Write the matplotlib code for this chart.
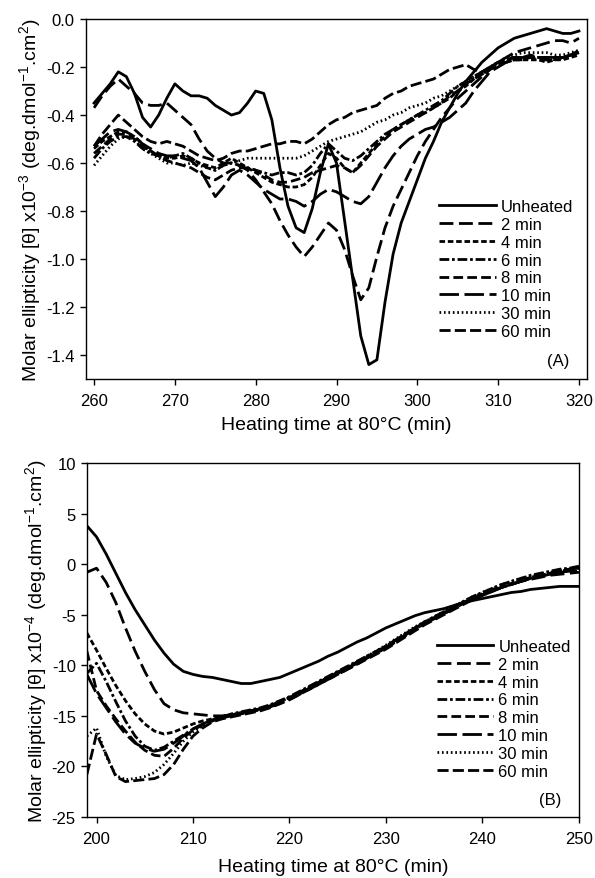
import matplotlib
matplotlib.use('Agg')
import matplotlib.pyplot as plt

plt.rcParams['font.family'] = ['Liberation Sans', 'DejaVu Sans']
plt.rcParams['mathtext.default'] = 'regular'
plt.rcParams['lines.scale_dashes'] = False

# (A) 260-320
x_a = list(range(260, 321))
unheated_a = [-0.35, -0.31, -0.27, -0.22, -0.24, -0.31, -0.41, -0.45, -0.40, -0.33,
              -0.27, -0.30, -0.32, -0.32, -0.33, -0.36, -0.38, -0.40, -0.39, -0.35,
              -0.30, -0.31, -0.42, -0.62, -0.78, -0.87, -0.89, -0.79, -0.64, -0.52,
              -0.60, -0.84, -1.08, -1.32, -1.44, -1.42, -1.18, -0.98, -0.85, -0.76,
              -0.67, -0.58, -0.51, -0.43, -0.37, -0.31, -0.26, -0.22, -0.18, -0.15,
              -0.12, -0.10, -0.08, -0.07, -0.06, -0.05, -0.04, -0.05, -0.06, -0.06,
              -0.05]
min2_a = [-0.37, -0.32, -0.28, -0.25, -0.28, -0.31, -0.35, -0.36, -0.36, -0.35,
          -0.38, -0.41, -0.44, -0.50, -0.55, -0.58, -0.60, -0.60, -0.61, -0.63,
          -0.67, -0.72, -0.77, -0.84, -0.90, -0.95, -0.99, -0.95, -0.90, -0.85,
          -0.88, -0.96, -1.07, -1.17, -1.12, -0.99, -0.87, -0.78, -0.71, -0.64,
          -0.57, -0.51, -0.46, -0.41, -0.37, -0.33, -0.30, -0.27, -0.24, -0.21,
          -0.18, -0.16, -0.14, -0.13, -0.12, -0.11, -0.10, -0.09, -0.09, -0.10,
          -0.08]
min4_a = [-0.54, -0.51, -0.49, -0.47, -0.47, -0.49, -0.52, -0.55, -0.57, -0.58,
          -0.58, -0.57, -0.58, -0.60, -0.61, -0.62, -0.60, -0.58, -0.60, -0.62,
          -0.64, -0.66, -0.68, -0.69, -0.70, -0.70, -0.69, -0.66, -0.61, -0.56,
          -0.58, -0.62, -0.64, -0.60, -0.56, -0.52, -0.49, -0.46, -0.44, -0.42,
          -0.40, -0.39, -0.37, -0.35, -0.33, -0.30, -0.28, -0.25, -0.23, -0.21,
          -0.19, -0.18, -0.17, -0.17, -0.17, -0.17, -0.18, -0.17, -0.17, -0.16,
          -0.15]
min6_a = [-0.58, -0.54, -0.51, -0.49, -0.49, -0.51, -0.54, -0.56, -0.57, -0.58,
          -0.57, -0.56, -0.58, -0.60, -0.62, -0.63, -0.61, -0.60, -0.61, -0.62,
          -0.63, -0.64, -0.65, -0.64, -0.64, -0.65, -0.64, -0.61, -0.56, -0.52,
          -0.55, -0.58, -0.59, -0.57, -0.54, -0.51, -0.48, -0.46, -0.44, -0.42,
          -0.40, -0.38, -0.36, -0.34, -0.31, -0.28, -0.26, -0.24, -0.22, -0.20,
          -0.18, -0.17, -0.16, -0.16, -0.16, -0.16, -0.17, -0.17, -0.16, -0.15,
          -0.14]
min8_a = [-0.56, -0.53, -0.50, -0.48, -0.48, -0.50, -0.53, -0.55, -0.57, -0.59,
          -0.60, -0.61, -0.62, -0.64, -0.66, -0.67, -0.65, -0.63, -0.62, -0.62,
          -0.63, -0.65, -0.67, -0.68, -0.68, -0.67, -0.66, -0.64, -0.63, -0.62,
          -0.61, -0.62, -0.64, -0.61, -0.57, -0.53, -0.50, -0.47, -0.45, -0.43,
          -0.41, -0.39, -0.37, -0.35, -0.32, -0.30, -0.27, -0.25, -0.23, -0.21,
          -0.19, -0.18, -0.17, -0.17, -0.16, -0.17, -0.17, -0.16, -0.16, -0.15,
          -0.14]
min10_a = [-0.53, -0.50, -0.47, -0.46, -0.47, -0.49, -0.52, -0.54, -0.56, -0.57,
           -0.57, -0.58, -0.59, -0.62, -0.68, -0.74, -0.70, -0.65, -0.63, -0.65,
           -0.68, -0.71, -0.73, -0.75, -0.75, -0.76, -0.78, -0.76, -0.73, -0.71,
           -0.72, -0.74, -0.76, -0.77, -0.74, -0.68, -0.62, -0.57, -0.53, -0.50,
           -0.48, -0.46, -0.45, -0.43, -0.41, -0.38, -0.35, -0.30, -0.26, -0.22,
           -0.20, -0.18, -0.17, -0.16, -0.16, -0.16, -0.16, -0.16, -0.16, -0.15,
           -0.14]
min30_a = [-0.61, -0.57, -0.53, -0.50, -0.49, -0.50, -0.54, -0.56, -0.58, -0.60,
           -0.60, -0.61, -0.60, -0.61, -0.62, -0.63, -0.61, -0.60, -0.59, -0.58,
           -0.58, -0.58, -0.58, -0.58, -0.58, -0.58, -0.57, -0.55, -0.53, -0.51,
           -0.50, -0.49, -0.48, -0.47, -0.45, -0.43, -0.42, -0.40, -0.39, -0.37,
           -0.36, -0.35, -0.33, -0.32, -0.30, -0.28, -0.26, -0.24, -0.22, -0.20,
           -0.18, -0.16, -0.15, -0.14, -0.14, -0.14, -0.14, -0.15, -0.15, -0.14,
           -0.13]
min60_a = [-0.53, -0.48, -0.44, -0.40, -0.43, -0.46, -0.49, -0.51, -0.52, -0.51,
           -0.52, -0.53, -0.55, -0.57, -0.58, -0.59, -0.58, -0.56, -0.55, -0.55,
           -0.54, -0.53, -0.52, -0.52, -0.51, -0.51, -0.52, -0.50, -0.47, -0.44,
           -0.42, -0.41, -0.39, -0.38, -0.37, -0.36, -0.33, -0.31, -0.30, -0.28,
           -0.27, -0.26, -0.25, -0.23, -0.21, -0.20, -0.19, -0.21, -0.22, -0.20,
           -0.18, -0.17, -0.16, -0.16, -0.15, -0.16, -0.16, -0.17, -0.16, -0.15,
           -0.13]

# (B) 199-250
x_b = list(range(199, 251))
unheated_b = [3.8, 2.7, 1.0, -0.9, -2.8, -4.5, -6.0, -7.5, -8.8, -9.9,
              -10.6, -10.9, -11.1, -11.2, -11.4, -11.6, -11.8, -11.8, -11.6, -11.4,
              -11.2, -10.8, -10.4, -10.0, -9.6, -9.1, -8.7, -8.2, -7.7, -7.3,
              -6.8, -6.3, -5.9, -5.5, -5.1, -4.8, -4.6, -4.4, -4.1, -3.8,
              -3.6, -3.4, -3.2, -3.0, -2.8, -2.7, -2.5, -2.4, -2.3, -2.2,
              -2.2, -2.2]
min2_b = [-0.8, -0.4, -1.8, -3.8, -6.3, -8.6, -10.6, -12.4, -13.8, -14.4,
          -14.7, -14.8, -14.9, -15.0, -15.0, -14.9, -14.7, -14.5, -14.3, -14.1,
          -13.8, -13.4, -12.9, -12.4, -11.9, -11.4, -10.9, -10.4, -9.9, -9.3,
          -8.7, -8.1, -7.5, -6.9, -6.3, -5.8, -5.3, -4.8, -4.3, -3.8,
          -3.4, -3.0, -2.6, -2.3, -2.0, -1.7, -1.5, -1.3, -1.1, -1.0,
          -0.9, -0.8]
min4_b = [-6.8, -8.5, -10.3, -12.0, -13.5, -14.8, -15.8, -16.5, -16.8, -16.6,
          -16.2, -15.8, -15.5, -15.3, -15.1, -14.9, -14.7, -14.5, -14.3, -14.0,
          -13.6, -13.2, -12.7, -12.2, -11.7, -11.2, -10.7, -10.2, -9.7, -9.2,
          -8.7, -8.2, -7.6, -7.0, -6.4, -5.8, -5.3, -4.8, -4.3, -3.8,
          -3.3, -2.9, -2.5, -2.2, -1.9, -1.6, -1.3, -1.1, -0.9, -0.7,
          -0.5, -0.3]
min6_b = [-10.8, -9.8, -11.6, -13.6, -15.5, -17.0, -18.0, -18.4, -18.1, -17.5,
          -16.9, -16.3, -15.8, -15.4, -15.1, -14.8, -14.6, -14.4, -14.2, -13.9,
          -13.5, -13.1, -12.6, -12.1, -11.6, -11.1, -10.6, -10.1, -9.6, -9.1,
          -8.6, -8.1, -7.5, -6.9, -6.3, -5.7, -5.2, -4.7, -4.2, -3.7,
          -3.2, -2.8, -2.4, -2.0, -1.7, -1.4, -1.1, -0.9, -0.7, -0.5,
          -0.4, -0.2]
min8_b = [-8.6, -12.5, -14.0, -15.3, -16.5, -17.6, -18.4, -18.9, -19.0, -18.2,
          -17.2, -16.4, -15.9, -15.5, -15.2, -15.0, -14.8, -14.6, -14.4, -14.1,
          -13.7, -13.3, -12.8, -12.3, -11.8, -11.3, -10.8, -10.3, -9.8, -9.3,
          -8.8, -8.3, -7.7, -7.1, -6.5, -5.9, -5.4, -4.9, -4.4, -3.9,
          -3.4, -3.0, -2.6, -2.3, -2.0, -1.7, -1.4, -1.2, -1.0, -0.8,
          -0.6, -0.4]
min10_b = [-10.9, -12.8, -14.2, -15.6, -16.8, -17.7, -18.2, -18.5, -18.3, -17.7,
           -17.0, -16.3, -15.8, -15.4, -15.1, -14.9, -14.7, -14.5, -14.3, -14.0,
           -13.6, -13.2, -12.7, -12.2, -11.7, -11.2, -10.7, -10.2, -9.7, -9.2,
           -8.7, -8.2, -7.6, -7.0, -6.4, -5.9, -5.4, -4.9, -4.4, -3.9,
           -3.5, -3.1, -2.7, -2.3, -2.0, -1.7, -1.4, -1.2, -1.0, -0.8,
           -0.7, -0.6]
min30_b = [-17.0, -16.2, -19.0, -20.9, -21.3, -21.2, -21.0, -20.6, -19.8, -18.7,
           -17.5, -16.6, -16.0, -15.5, -15.2, -14.9, -14.7, -14.5, -14.3, -14.0,
           -13.6, -13.2, -12.7, -12.2, -11.7, -11.2, -10.7, -10.2, -9.7, -9.1,
           -8.6, -8.0, -7.4, -6.8, -6.2, -5.7, -5.2, -4.7, -4.2, -3.7,
           -3.2, -2.8, -2.4, -2.0, -1.7, -1.4, -1.2, -1.0, -0.8, -0.6,
           -0.5, -0.4]
min60_b = [-20.8, -16.8, -18.8, -21.0, -21.5, -21.4, -21.3, -21.2, -20.8, -19.8,
           -18.3, -17.0, -16.2, -15.6, -15.3, -15.1, -14.9, -14.7, -14.5, -14.2,
           -13.8, -13.4, -12.9, -12.4, -11.9, -11.4, -10.9, -10.4, -9.9, -9.4,
           -8.9, -8.4, -7.8, -7.2, -6.6, -6.0, -5.5, -5.0, -4.5, -4.0,
           -3.5, -3.1, -2.7, -2.3, -2.0, -1.7, -1.4, -1.2, -0.9, -0.7,
           -0.5, -0.3]

labels = ['Unheated', '2 min', '4 min', '6 min', '8 min', '10 min', '30 min', '60 min']
# dash patterns in points (None = solid)
dash_styles = [None, (10, 4), (4, 2), (7, 2, 2, 2), (7, 3), (14, 4), (1.2, 2), (8, 3)]

series_a = [unheated_a, min2_a, min4_a, min6_a, min8_a, min10_a, min30_a, min60_a]
series_b = [unheated_b, min2_b, min4_b, min6_b, min8_b, min10_b, min30_b, min60_b]

fig = plt.figure(figsize=(5.95, 8.79), dpi=100)
ax1 = fig.add_axes([0.1445, 0.5677, 0.8421, 0.4095])
ax2 = fig.add_axes([0.146, 0.0694, 0.827, 0.4027])


def draw(ax, x, series, tag, xpad):
    for ys, lab, ds in zip(series, labels, dash_styles):
        line, = ax.plot(x, ys, color='black', linewidth=2.0, label=lab)
        if ds is not None:
            line.set_dashes(ds)
    ax.tick_params(direction='out', length=4, width=1, labelsize=12, top=False, right=False)
    ax.tick_params(axis='x', pad=6)
    ax.tick_params(axis='y', pad=4)
    for s in ax.spines.values():
        s.set_linewidth(1.0)
    ax.set_xlabel('Heating time at 80°C (min)', fontsize=14, labelpad=xpad)
    ax.text(0.965, 0.05, tag, transform=ax.transAxes, ha='right', va='center', fontsize=12)


draw(ax1, x_a, series_a, '(A)', 6)
ax1.set_xlim(259, 321)
ax1.set_ylim(-1.5, 0.0)
ax1.set_xticks([260, 270, 280, 290, 300, 310, 320])
ax1.set_yticks([0.0, -0.2, -0.4, -0.6, -0.8, -1.0, -1.2, -1.4])
ax1.set_yticklabels(['0.0', '-0.2', '-0.4', '-0.6', '-0.8', '-1.0', '-1.2', '-1.4'])
ax1.set_ylabel('Molar ellipticity [θ] x10$^{-3}$ (deg.dmol$^{-1}$.cm$^{2}$)', fontsize=14, labelpad=2)
ax1.legend(loc='upper left', bbox_to_anchor=(0.705, 0.50), frameon=False, fontsize=12,
           handlelength=3.4, handletextpad=0.3, labelspacing=0.17, borderpad=0, borderaxespad=0)

draw(ax2, x_b, series_b, '(B)', 9)
ax2.set_xlim(199, 250)
ax2.set_ylim(-25, 10)
ax2.set_xticks([200, 210, 220, 230, 240, 250])
ax2.set_yticks([10, 5, 0, -5, -10, -15, -20, -25])
ax2.set_yticklabels(['10', '5', '0', '-5', '-10', '-15', '-20', '-25'])
ax2.set_ylabel('Molar ellipticity [θ] x10$^{-4}$ (deg.dmol$^{-1}$.cm$^{2}$)', fontsize=14, labelpad=2)
ax2.legend(loc='upper left', bbox_to_anchor=(0.711, 0.503), frameon=False, fontsize=12,
           handlelength=3.4, handletextpad=0.3, labelspacing=0.17, borderpad=0, borderaxespad=0)

fig.savefig('out.png', dpi=100)
